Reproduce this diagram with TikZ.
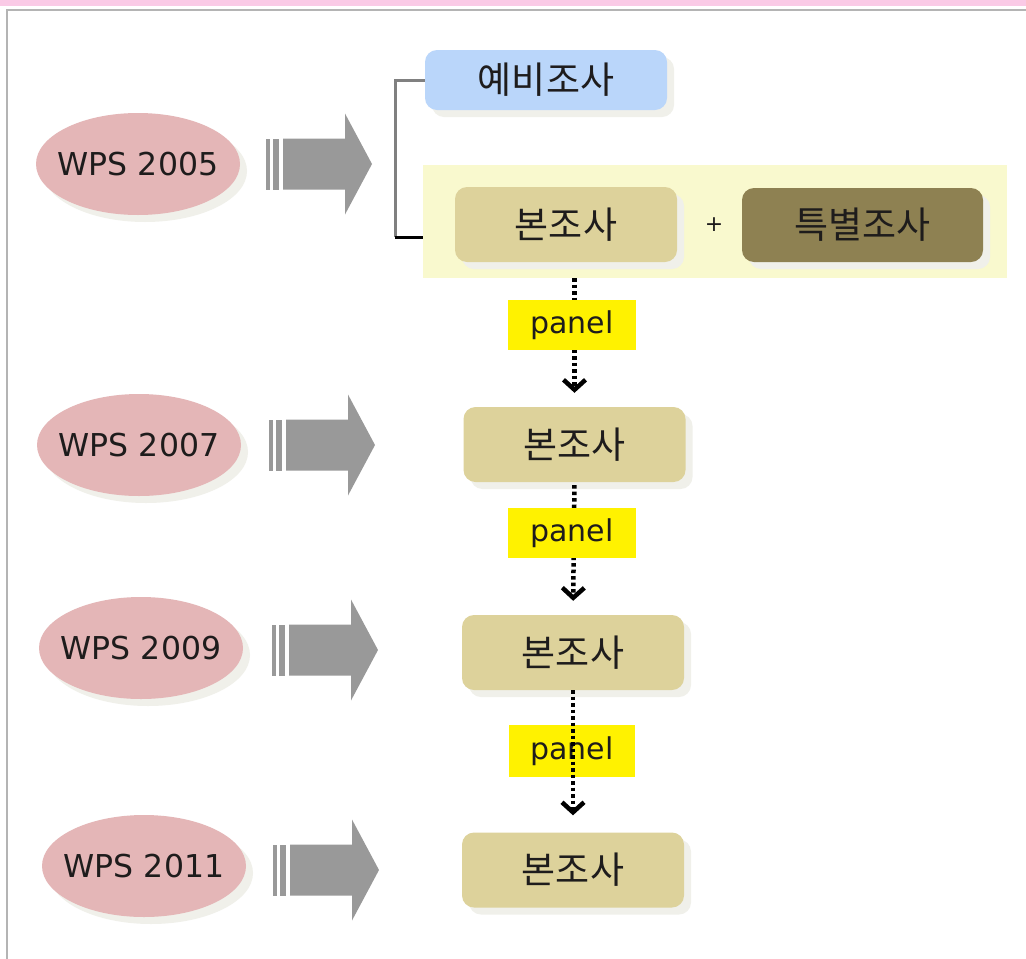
\documentclass[tikz,border=0pt]{standalone}
\usepackage{fontspec}
\setmainfont{DejaVu Sans}
\newfontfamily\krfont{Noto Sans CJK KR}
\usetikzlibrary{shapes.geometric,shadows,arrows.meta}
\definecolor{pinkbar}{RGB}{250,202,230}
\definecolor{framecol}{RGB}{180,180,180}
\definecolor{ellcol}{RGB}{228,182,183}
\definecolor{arrcol}{RGB}{153,153,153}
\definecolor{bluebox}{RGB}{186,214,250}
\definecolor{bandcol}{RGB}{249,249,206}
\definecolor{boncol}{RGB}{221,210,155}
\definecolor{specol}{RGB}{142,129,82}
\definecolor{txtcol}{RGB}{30,28,28}
\definecolor{shcol}{RGB}{240,240,234}
\tikzset{
  softshadow/.style={drop shadow={shadow xshift=7pt, shadow yshift=-7pt, fill=shcol, opacity=1}},
  wps/.style={ellipse, fill=ellcol, minimum width=204pt, minimum height=102pt, inner sep=0pt,
    font=\fontsize{31.5}{36}\selectfont, text=txtcol, softshadow},
  krbox/.style={rectangle, rounded corners=12pt, minimum width=222pt, minimum height=75pt,
    inner sep=0pt, font=\krfont\fontsize{37}{42}\selectfont, text=txtcol, softshadow},
  bonbox/.style={krbox, fill=boncol},
  panellbl/.style={rectangle, fill=yellow, minimum width=128pt, minimum height=50pt, inner sep=0pt,
    font=\fontsize{30}{34}\selectfont, text=txtcol},
  panelarrow/.style={draw=black, line width=4.5pt, dash pattern=on 3.5pt off 3pt,
    -{Straight Barb[length=10pt,width=22pt,line width=4.5pt]}},
  bracketline/.style={line width=3pt},
  pics/fatarrow/.style={code={
    \fill[arrcol] (0,-25.5) rectangle (4,25.5);
    \fill[arrcol] (7,-25.5) rectangle (13,25.5);
    \fill[arrcol] (17,-25.5) -- (79,-25.5) -- (79,-50.5) -- (106,0) -- (79,50.5) -- (79,25.5) -- (17,25.5) -- cycle;
  }}
}
\newcommand{\zw}[1]{\makebox[0pt][c]{#1}}
\begin{document}
\begin{tikzpicture}[x=1pt,y=-1pt]
\useasboundingbox (0,0) rectangle (1026,959);
\fill[white] (0,0) rectangle (1026,959);
% top bar and frame
\fill[pinkbar] (0,0) rectangle (1026,6);
\draw[framecol, line width=2pt] (7,959) -- (7,10) -- (1026,10);

% ellipses
\node[wps] (e1) at (138,164) {\zw{WPS 2005}};
\node[wps] (e2) at (139,445) {\zw{WPS 2007}};
\node[wps] (e3) at (141,648) {\zw{WPS 2009}};
\node[wps] (e4) at (144,866) {\zw{WPS 2011}};

% big arrows
\pic at (266,164) {fatarrow};
\pic at (269,445) {fatarrow};
\pic at (272,650) {fatarrow};
\pic at (273,870) {fatarrow};

% top group
\node[rectangle, fill=bandcol, minimum width=584pt, minimum height=113pt, inner sep=0pt] (band) at (715,221.5) {};
\node[krbox, fill=bluebox, minimum width=242pt, minimum height=60pt] (yebi) at (546,80) {예비조사};
\node[bonbox] (b1) at (566,224.5) {본조사};
\node[font=\fontsize{22}{26}\selectfont, text=txtcol] (plus) at (714,225) {+};
\node[krbox, fill=specol, minimum width=241pt, minimum height=74pt] (teuk) at (862.5,225) {특별조사};

% bracket
\coordinate (brt) at (395,80);
\coordinate (brb) at (395,237);
\draw[bracketline, draw={rgb,255:red,128;green,128;blue,128}] (yebi.west) -- (brt) -- (brb);
\draw[bracketline, draw=black] (brb) -- (band.west |- brb);

% lower boxes
\node[bonbox] (b2) at (574.5,444.5) {본조사};
\node[bonbox] (b3) at (573,652.5) {본조사};
\node[bonbox] (b4) at (573,870) {본조사};

% panel connectors
\draw[panelarrow, shorten >=14pt] (b2.north |- band.south) -- (b2.north);
\node[panellbl] (p1) at (572,325) {panel};
\draw[panelarrow, shorten <=3pt, shorten >=14pt] (b2.south) -- (b3.north);
\node[panellbl] (p2) at (572,533) {panel};
\node[panellbl, minimum width=126pt, minimum height=52pt] (p3) at (572,751) {panel};
\draw[panelarrow, shorten >=17pt] (b3.south) -- (b4.north);
\end{tikzpicture}
\end{document}
